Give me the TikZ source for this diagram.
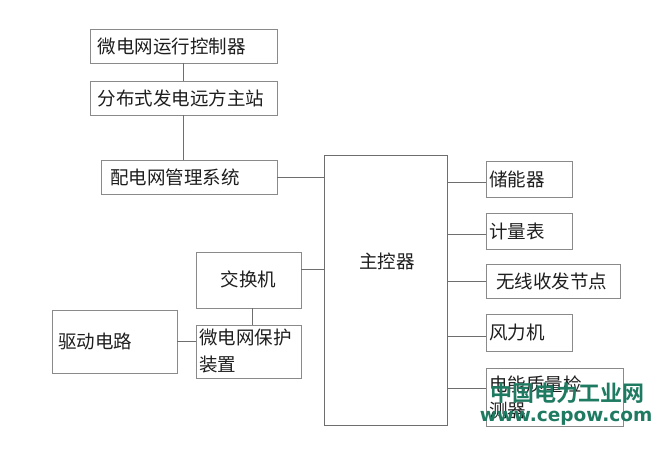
\documentclass[tikz,border=0pt]{standalone}
\usepackage{fontspec}
\setmainfont{Noto Sans CJK SC}
\newfontfamily\cjkbold{Noto Sans CJK SC Bold}
\newfontfamily\wmlatin{DejaVu Sans}
\definecolor{boxgray}{HTML}{8A8A8A}
\definecolor{linegray}{HTML}{6E6E6E}
\definecolor{txt}{HTML}{1E1E1E}
\definecolor{wm}{HTML}{1F7A62}
\begin{document}
\begin{tikzpicture}[x=1pt,y=-1pt,
  every node/.style={font=\fontsize{18.5}{28}\selectfont, text=txt},
  bx/.style={draw=boxgray, line width=0.9pt, inner sep=0pt, anchor=center},
  lbox/.style={bx, text width=#1, align=left},
  conn/.style={draw=linegray, line width=0.9pt}]
\useasboundingbox (0,0) rectangle (667,448);
\fill[white] (0,0) rectangle (667,448);

% left column
\node[lbox=180pt, minimum width=187pt, minimum height=34pt] (ctl) at (183.5,46) {\hspace*{4pt}微电网运行控制器};
\node[lbox=180pt, minimum width=187pt, minimum height=34pt] (dist) at (183.5,98) {\hspace*{4pt}分布式发电远方主站};
\node[lbox=170pt, minimum width=176pt, minimum height=34pt] (pdw) at (189,177) {\hspace*{6pt}配电网管理系统};

% main controller
\node[bx, draw=linegray, minimum width=123pt, minimum height=270pt] (main) at (385.5,290) {};
\node (maintxt) at (387,261) {主控器};

% switch, protection, drive
\node[bx, minimum width=105pt, minimum height=56pt] (jhj) at (248.5,280) {\raisebox{3pt}{交换机}};
\node[bx, minimum width=105pt, minimum height=53pt, text width=99pt, align=left, inner xsep=3pt] (bh) at (248.5,351.5) {微电网保护\\[-1pt]装置};
\node[bx, minimum width=125pt, minimum height=63pt, text width=113pt, align=left] (qd) at (114.5,341.5) {驱动电路};

% right column
\node[lbox=80pt, minimum width=86pt, minimum height=36pt] (cn) at (529,179) {储能器};
\node[lbox=80pt, minimum width=86pt, minimum height=36pt] (jl) at (529,231) {计量表};
\node[lbox=126pt, minimum width=134pt, minimum height=34pt] (wx) at (553,281) {\hspace*{6pt}无线收发节点};
\node[lbox=80pt, minimum width=86pt, minimum height=37pt] (fl) at (529,332.5) {风力机};
\node[bx, minimum width=137pt, minimum height=58pt, text width=131pt, align=left] (dn) at (554.5,397) {电能质量检\\[-2pt]测器};

% connectors
\draw[conn] (ctl.south) -- (dist.north);
\draw[conn] (dist.south) -- (dist.south |- pdw.north);
\draw[conn] (pdw.east) -- (pdw.east -| main.west);
\draw[conn] ([yshift=11pt]jhj.east) -- ([yshift=11pt]jhj.east -| main.west);
\draw[conn] ([xshift=3.5pt]jhj.south) -- ([xshift=3.5pt]bh.north);
\draw[conn] (qd.east) -- (qd.east -| bh.west);
\draw[conn] ([yshift=-3pt]cn.west) -- ([yshift=-3pt]cn.west -| main.east);
\draw[conn] ([yshift=-3pt]jl.west) -- ([yshift=-3pt]jl.west -| main.east);
\draw[conn] (wx.west) -- (wx.west -| main.east);
\draw[conn] ([yshift=-3.5pt]fl.west) -- ([yshift=-3.5pt]fl.west -| main.east);
\draw[conn] ([yshift=9pt]dn.west) -- ([yshift=9pt]dn.west -| main.east);

% watermark
\node[font=\cjkbold\fontsize{22}{24}\selectfont, text=wm, inner sep=0pt] (wm1) at (567,393) {中国电力工业网};
\node[font=\wmlatin\bfseries\fontsize{18.5}{20}\selectfont, text=wm, inner sep=0pt] (wm2) at (566,418) {www.cepow.com};
\end{tikzpicture}
\end{document}
